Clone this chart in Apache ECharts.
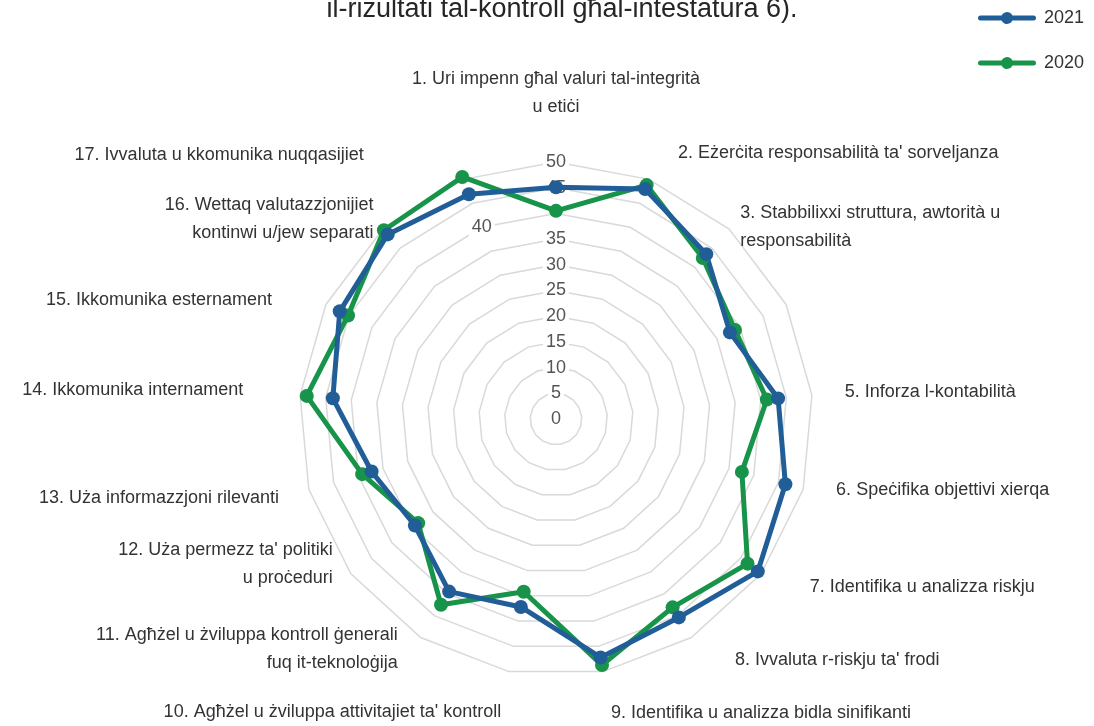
<!DOCTYPE html>
<html>
<head>
<meta charset="utf-8">
<script src="https://cdn.jsdelivr.net/npm/echarts@6/dist/echarts.min.js"></script>
<style>
  html, body { margin: 0; padding: 0; background: #fff; }
  #chart { width: 1094px; height: 726px; }
</style>
</head>
<body>
<div id="chart"></div>
<script>
// criteria, in natural order 1..17 (label 4 is not shown in the source)
const criteria = [
  "1. Uri impenn għal valuri tal-integrità\nu etiċi",
  "2. Eżerċita responsabilità ta' sorveljanza",
  "3. Stabbilixxi struttura, awtorità u\nresponsabilità",
  "",
  "5. Inforza l-kontabilità",
  "6. Speċifika objettivi xierqa",
  "7. Identifika u analizza riskju",
  "8. Ivvaluta r-riskju ta' frodi",
  "9. Identifika u analizza bidla sinifikanti",
  "10. Agħżel u żviluppa attivitajiet ta' kontroll",
  "11. Agħżel u żviluppa kontroll ġenerali\nfuq it-teknoloġija",
  "12. Uża permezz ta' politiki\nu proċeduri",
  "13. Uża informazzjoni rilevanti",
  "14. Ikkomunika internament",
  "15. Ikkomunika esternament",
  "16. Wettaq valutazzjonijiet\nkontinwi u/jew separati",
  "17. Ivvaluta u kkomunika nuqqasijiet"
];
const values2021 = [45.1, 48.0, 43.4, 37.8, 43.4, 46.4, 49.2, 45.4, 47.2, 37.2, 39.5, 34.4, 37.3, 43.6, 47.0, 48.6, 46.9];
const values2020 = [40.5, 48.8, 42.4, 38.9, 41.2, 37.6, 46.7, 43.1, 48.7, 34.2, 42.5, 33.6, 39.2, 48.7, 45.2, 49.7, 50.5];
const seriesNames = ["2021", "2020"];
const titleText = "il-riżultati tal-kontroll għal-intestatura 6).";

// layout only: gap of each criterion name from the outer ring, and a sideways nudge
const nameGaps = [41, 28, 3, 20, 33, 2, 22, 26, 42, 41, 13, -16, 31, 57, 10, 14, 26];
const nameNudge = [0, 19, 9, 0, 0, 31, 31, 30, 0, 0, 16, 31, 0, 0, 45, 0, 90];

const BLUE = "#215e98";
const GREEN = "#17934a";
const FONT = "'Liberation Sans', Arial, sans-serif";

// echarts lays indicators out counter-clockwise, the source goes clockwise
const order = [0];
for (let i = criteria.length - 1; i >= 1; i--) order.push(i);
const pick = (arr) => order.map((i) => arr[i]);

const indicator = order.map((i) => {
  // right half names grow to the right, left half names to the left
  const pad = i === 0 ? [0, 0, 0, 0] : i <= 8 ? [0, 0, 0, nameNudge[i]] : [0, nameNudge[i], 0, 0];
  const ind = {
    name: criteria[i],
    min: 0,
    max: 50,
    nameGap: nameGaps[i],
    nameTextStyle: { padding: pad },
  };
  if (i === 0) {
    ind.axisLabel = { show: true, formatter: (v) => (v === 40 ? "" : String(v)) };
  } else if (i === 16) {
    ind.axisLabel = { show: true, formatter: (v) => (v === 40 ? "40" : "") };
  }
  return ind;
});

const legendIcon =
  "path://M2.5,4.5 L23.55,4.5 A6,6 0 0 1 34.45,4.5 L55.5,4.5 A2.5,2.5 0 0 1 55.5,9.5 " +
  "L34.45,9.5 A6,6 0 0 1 23.55,9.5 L2.5,9.5 A2.5,2.5 0 0 1 2.5,4.5 Z";

const chart = echarts.init(document.getElementById("chart"));
const option = {
  backgroundColor: "#fff",
  animation: false,
  title: {
    text: titleText,
    left: 557,
    textAlign: "center",
    top: -9,
    textStyle: { fontSize: 27, fontWeight: "normal", color: "#262626", fontFamily: FONT },
  },
  legend: {
    orient: "vertical",
    left: 973,
    top: 4,
    itemGap: 27,
    itemWidth: 58,
    itemHeight: 12,
    icon: legendIcon,
    data: seriesNames,
    textStyle: { fontSize: 18, color: "#333", fontFamily: FONT, padding: [0, 0, 0, 3] },
  },
  radar: {
    center: [556, 419],
    radius: 257,
    startAngle: 90,
    shape: "polygon",
    splitNumber: 10,
    indicator: indicator,
    axisName: { color: "#333", fontSize: 18, fontFamily: FONT, lineHeight: 28 },
    axisLine: { show: false },
    axisTick: { show: false },
    axisLabel: {
      show: false,
      color: "#555",
      fontSize: 18,
      fontFamily: FONT,
      margin: 0,
      align: "center",
      verticalAlign: "middle",
      backgroundColor: "#fff",
      padding: [0, 3],
    },
    splitLine: { lineStyle: { color: "#d9d9d9", width: 1.5 } },
    splitArea: { show: false },
  },
  series: [
    {
      type: "radar",
      symbol: "circle",
      symbolSize: 14,
      lineStyle: { width: 5 },
      data: [
        {
          name: "2020",
          value: pick(values2020),
          itemStyle: { color: GREEN },
          lineStyle: { color: GREEN, width: 5 },
        },
        {
          name: "2021",
          value: pick(values2021),
          itemStyle: { color: BLUE },
          lineStyle: { color: BLUE, width: 5 },
        },
      ],
    },
  ],
};
chart.setOption(option);
</script>
</body>
</html>
